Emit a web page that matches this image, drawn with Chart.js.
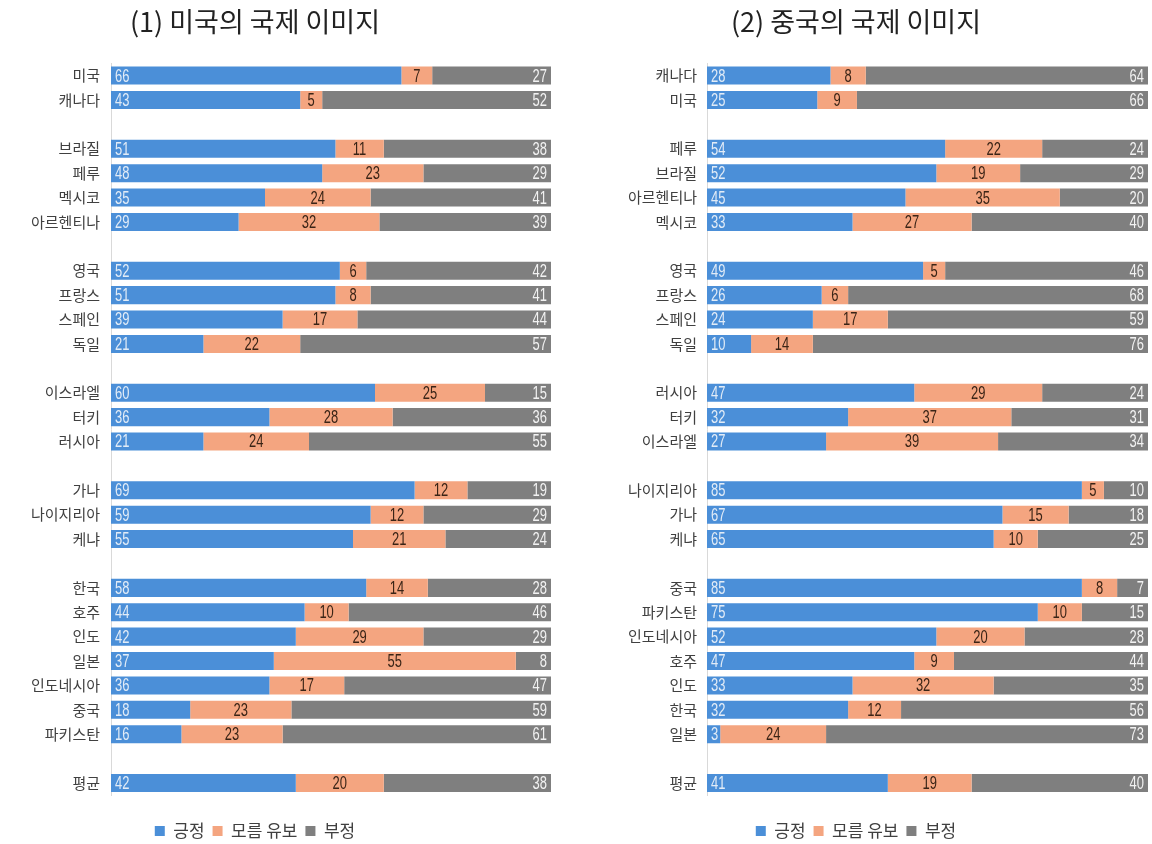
<!DOCTYPE html>
<html>
<head>
<meta charset="utf-8">
<script src="https://cdn.jsdelivr.net/npm/chart.js@4/dist/chart.umd.min.js"></script>
<style>
  html, body { margin: 0; padding: 0; background: #ffffff; overflow: hidden; }
  body { width: 1152px; height: 844px; position: relative; }
  .box { position: absolute; top: 0; height: 844px; }
  #leftBox { left: -41px; width: 592px; }
  #rightBox { left: 564px; width: 584px; }
</style>
</head>
<body>
<div class="box" id="leftBox"><canvas id="usChart"></canvas></div>
<div class="box" id="rightBox"><canvas id="cnChart"></canvas></div>
<script>
// ---- Data ----
const legendLabels = ['긍정', '모름 유보', '부정'];

const usTitle = '(1) 미국의 국제 이미지';
const usCategories = ['미국','캐나다','', '브라질','페루','멕시코','아르헨티나','', '영국','프랑스','스페인','독일','', '이스라엘','터키','러시아','', '가나','나이지리아','케냐','', '한국','호주','인도','일본','인도네시아','중국','파키스탄','', '평균'];
const usPositive = [66,43,null,51,48,35,29,null,52,51,39,21,null,60,36,21,null,69,59,55,null,58,44,42,37,36,18,16,null,42];
const usUnknown  = [7,5,null,11,23,24,32,null,6,8,17,22,null,25,28,24,null,12,12,21,null,14,10,29,55,17,23,23,null,20];
const usNegative = [27,52,null,38,29,41,39,null,42,41,44,57,null,15,36,55,null,19,29,24,null,28,46,29,8,47,59,61,null,38];

const cnTitle = '(2) 중국의 국제 이미지';
const cnCategories = ['캐나다','미국','', '페루','브라질','아르헨티나','멕시코','', '영국','프랑스','스페인','독일','', '러시아','터키','이스라엘','', '나이지리아','가나','케냐','', '중국','파키스탄','인도네시아','호주','인도','한국','일본','', '평균'];
const cnPositive = [28,25,null,54,52,45,33,null,49,26,24,10,null,47,32,27,null,85,67,65,null,85,75,52,47,33,32,3,null,41];
const cnUnknown  = [8,9,null,22,19,35,27,null,5,6,17,14,null,29,37,39,null,5,15,10,null,8,10,20,9,32,12,24,null,19];
const cnNegative = [64,66,null,24,29,20,40,null,46,68,59,76,null,24,31,34,null,10,18,25,null,7,15,28,44,35,56,73,null,40];

// ---- Styles ----
const COLORS = ['#4b8fd8', '#f4a580', '#7f7f7f'];
const LABEL_COLORS = ['#e2ecf7', '#3a2416', '#f2f2f2'];
const KFONT = '"Noto Sans CJK KR", "Noto Sans", sans-serif';
const NUMFONT = '"Liberation Sans", Arial, sans-serif';
const NARROW = 0.72;

const valueLabels = {
  id: 'valueLabels',
  afterDatasetDraw(chart, args) {
    const ctx = chart.ctx;
    const i = args.index;
    const meta = args.meta;
    const data = chart.data.datasets[i].data;
    ctx.save();
    ctx.font = '18px ' + NUMFONT;
    ctx.fillStyle = LABEL_COLORS[i];
    ctx.textBaseline = 'middle';
    meta.data.forEach((el, j) => {
      const v = data[j];
      if (v === null || v === undefined) return;
      const left = Math.min(el.x, el.base), right = Math.max(el.x, el.base);
      let x;
      if (i === 0) { ctx.textAlign = 'left'; x = left + 4; }
      else if (i === 1) { ctx.textAlign = 'center'; x = (left + right) / 2; }
      else { ctx.textAlign = 'right'; x = right - 4; }
      ctx.save();
      ctx.translate(x, el.y + 1);
      ctx.scale(NARROW, 1);
      ctx.fillText(String(v), 0, 0);
      ctx.restore();
    });
    ctx.restore();
  },
  afterLayout(chart) {
    const lg = chart.legend;
    if (lg) { lg.top += 5.5; lg.bottom += 5.5; }
  }
};

function makeChart(id, title, cats, pos, unk, neg, axisWidth, labelPad) {
  const series = [pos, unk, neg];
  return new Chart(document.getElementById(id), {
    type: 'bar',
    data: {
      labels: cats,
      datasets: series.map((d, k) => ({
        label: legendLabels[k],
        data: d,
        backgroundColor: COLORS[k],
        borderWidth: 0,
        barPercentage: 0.74,
        categoryPercentage: 1.0
      }))
    },
    options: {
      indexAxis: 'y',
      responsive: true,
      maintainAspectRatio: false,
      animation: false,
      layout: { padding: { left: 0, right: 0, top: 0, bottom: 0 } },
      scales: {
        x: {
          stacked: true, min: 0, max: 100,
          display: true,
          grid: { display: false },
          border: { display: false },
          ticks: { display: false },
          afterFit(s) { s.height = 13.8; }
        },
        y: {
          stacked: true,
          grid: { display: false, drawTicks: false },
          border: { display: true, color: '#d9d9d9', width: 1 },
          ticks: {
            autoSkip: false,
            padding: labelPad,
            color: '#404040',
            font: { family: KFONT, size: 15 }
          },
          afterFit(s) { s.width = axisWidth; }
        }
      },
      plugins: {
        title: {
          display: true,
          text: title,
          color: '#222222',
          font: { family: KFONT, size: 27, weight: 'normal' },
          padding: { top: 6, bottom: 25 }
        },
        legend: {
          position: 'bottom',
          labels: {
            boxWidth: 10,
            boxHeight: 10,
            padding: 8,
            color: '#404040',
            font: { family: KFONT, size: 17 }
          }
        },
        tooltip: { enabled: false }
      }
    },
    plugins: [valueLabels]
  });
}

makeChart('usChart', usTitle, usCategories, usPositive, usUnknown, usNegative, 152, 11);
makeChart('cnChart', cnTitle, cnCategories, cnPositive, cnUnknown, cnNegative, 143, 10);
</script>
</body>
</html>
